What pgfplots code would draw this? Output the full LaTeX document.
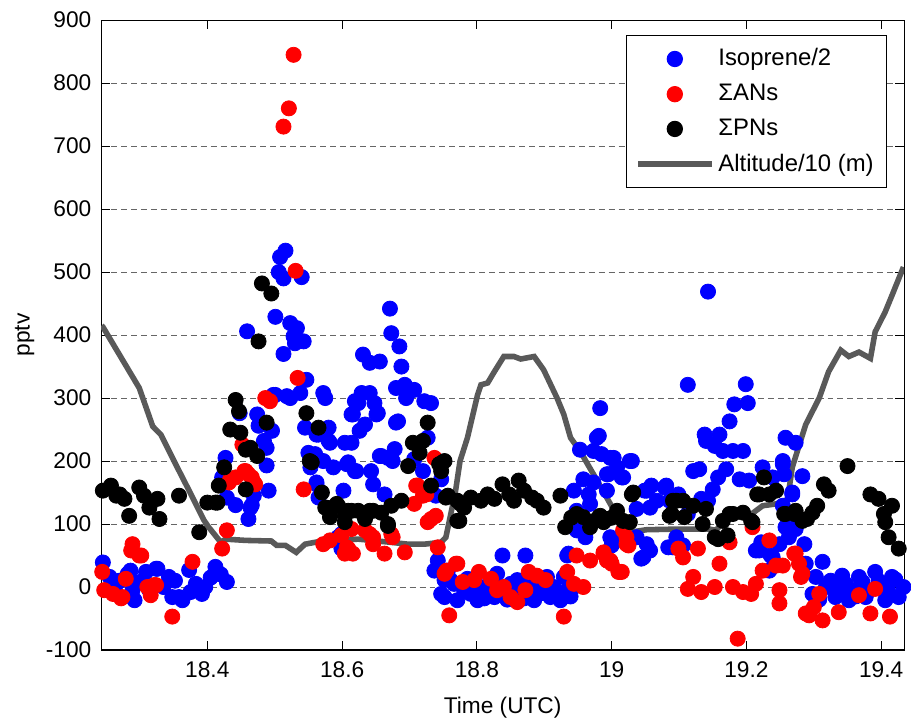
\documentclass[border=0pt]{standalone}
\usepackage{pgfplots}
\pgfplotsset{compat=1.18}
\usepackage{pgfplotstable}
\usepackage{fontspec}
\setmainfont{Liberation Sans}

\definecolor{altgray}{RGB}{89,89,89}

\pgfplotsset{
    markleg/.style={legend image code/.code={\draw[mark repeat=2,mark phase=2,##1] plot coordinates {(0cm,0cm) (0.65cm,0cm) (1.3cm,0cm)};}},
    lineleg/.style={legend image code/.code={\draw[##1] (0cm,0cm) -- (1.3cm,0cm);}},
}

% Isoprene/2 (pptv)
\pgfplotstableread[row sep=\\]{
x y\\
18.245 39\\ 18.255 16\\ 18.265 5\\ 18.282 21\\ 18.289 -5\\ 18.309 24\\ 18.324 29\\ 18.314 -5\\
18.343 16\\ 18.348 -16\\ 18.363 -21\\ 18.373 27\\ 18.383 5\\ 18.397 0\\ 18.286 26\\ 18.326 29\\
18.358 -16\\ 18.392 -11\\ 18.412 32\\ 18.429 8\\ 18.292 -21\\ 18.265 -11\\ 18.270 10\\ 18.300 8\\
18.335 0\\ 18.352 10\\ 18.405 15\\ 18.375 -8\\ 18.420 20\\
18.427 205\\ 18.422 174\\ 18.429 142\\ 18.442 130\\ 18.464 126\\ 18.474 274\\ 18.476 256\\ 18.488 221\\
18.484 232\\ 18.488 193\\ 18.491 153\\ 18.469 145\\ 18.461 108\\ 18.466 130\\ 18.501 305\\ 18.459 406\\
18.448 276\\ 18.496 248\\
18.516 534\\ 18.508 524\\ 18.506 500\\ 18.513 490\\ 18.540 492\\ 18.501 429\\ 18.523 419\\ 18.533 411\\
18.528 398\\ 18.543 390\\ 18.530 387\\ 18.513 370\\ 18.547 329\\ 18.498 305\\ 18.518 303\\ 18.538 308\\
18.572 308\\ 18.575 300\\ 18.619 295\\ 18.614 274\\ 18.545 253\\ 18.565 242\\ 18.580 253\\ 18.582 229\\
18.604 229\\ 18.614 229\\ 18.560 211\\ 18.553 190\\ 18.572 200\\ 18.587 190\\ 18.607 195\\ 18.619 184\\
18.562 163\\ 18.602 153\\ 18.565 142\\ 18.523 300\\ 18.562 242\\ 18.550 213\\ 18.683 263\\ 18.653 276\\
18.675 200\\ 18.580 232\\ 18.658 208\\ 18.562 166\\
18.671 442\\ 18.673 403\\ 18.685 382\\ 18.631 369\\ 18.641 356\\ 18.656 358\\ 18.688 350\\ 18.680 316\\
18.693 321\\ 18.707 313\\ 18.695 300\\ 18.629 308\\ 18.624 292\\ 18.641 308\\ 18.648 292\\ 18.651 274\\
18.616 274\\ 18.634 258\\ 18.626 248\\ 18.680 261\\ 18.722 295\\ 18.732 292\\ 18.727 237\\ 18.656 208\\
18.678 219\\ 18.668 205\\ 18.609 198\\ 18.621 184\\ 18.643 184\\ 18.646 163\\ 18.663 147\\ 18.707 203\\
18.720 184\\ 18.739 145\\ 18.747 171\\ 18.599 84\\ 18.594 79\\ 18.599 61\\
18.742 42\\ 18.737 26\\ 18.757 26\\ 18.747 -11\\ 18.752 11\\
18.752 -16\\ 18.761 11\\ 18.771 -21\\ 18.791 -11\\ 18.801 -21\\ 18.816 -5\\ 18.830 21\\ 18.826 -16\\
18.840 -13\\ 18.860 11\\ 18.870 -18\\ 18.885 -21\\ 18.889 5\\ 18.904 16\\ 18.909 -16\\ 18.924 -21\\
18.929 16\\ 18.934 -5\\ 18.838 50\\ 18.872 50\\ 18.934 50\\ 18.766 5\\ 18.781 -5\\ 18.786 13\\
18.796 8\\ 18.806 0\\ 18.811 -18\\ 18.821 10\\ 18.835 0\\ 18.845 -20\\ 18.850 5\\ 18.855 -10\\
18.865 0\\ 18.875 8\\ 18.880 -8\\ 18.894 -10\\ 18.899 10\\ 18.914 0\\ 18.919 -10\\ 18.939 -15\\ 18.944 0\\
18.983 284\\ 18.978 237\\ 18.953 218\\ 18.973 216\\ 18.985 211\\ 19.003 205\\ 19.027 200\\ 18.958 171\\
18.973 166\\ 18.993 179\\ 19.017 174\\ 18.944 153\\ 18.966 147\\ 18.993 153\\ 18.968 132\\ 18.948 121\\
18.948 90\\ 18.961 79\\ 18.998 79\\ 19.000 66\\ 18.936 53\\ 18.998 205\\ 19.008 190\\ 18.995 179\\ 18.981 240\\
19.113 321\\ 19.199 322\\ 19.182 290\\ 19.202 292\\ 19.175 263\\ 19.138 242\\ 19.160 242\\ 19.140 232\\
19.153 224\\ 19.165 216\\ 19.180 216\\ 19.195 216\\ 19.258 237\\ 19.273 229\\ 19.254 195\\ 19.121 184\\
19.130 187\\ 19.030 200\\ 19.015 174\\ 19.170 187\\ 19.158 174\\ 19.190 171\\ 19.204 169\\ 19.224 190\\
19.239 174\\ 19.283 176\\ 19.059 161\\ 19.079 158\\ 19.049 153\\ 19.150 155\\ 19.099 147\\ 19.067 137\\
19.057 126\\ 19.037 124\\ 19.086 137\\ 19.133 140\\ 19.143 137\\ 19.113 116\\ 19.268 147\\ 19.254 129\\
19.278 103\\ 19.258 95\\ 19.037 79\\ 19.052 68\\ 19.047 47\\ 19.091 63\\ 19.106 66\\ 19.214 58\\
19.236 50\\ 19.249 68\\ 19.222 71\\ 19.286 68\\ 19.288 37\\ 19.081 161\\ 19.052 153\\ 19.044 45\\
19.057 58\\ 19.000 76\\ 19.084 63\\ 19.096 79\\ 19.219 58\\ 19.239 47\\ 19.234 26\\ 19.263 79\\
19.143 469\\ 19.254 200\\ 19.256 179\\ 19.268 150\\ 19.273 92\\
19.313 40\\ 19.303 16\\ 19.298 -11\\ 19.318 0\\ 19.332 -16\\ 19.342 18\\ 19.357 -5\\ 19.367 16\\
19.377 -16\\ 19.391 24\\ 19.401 0\\ 19.416 16\\ 19.426 -16\\ 19.433 0\\ 19.352 -21\\ 19.406 -21\\
19.325 10\\ 19.337 -5\\ 19.347 5\\ 19.362 -15\\ 19.372 8\\ 19.382 -5\\ 19.396 10\\ 19.411 -8\\
19.421 12\\ 19.308 -20\\
}\isoprene

% Sum of alkyl nitrates (pptv)
\pgfplotstableread[row sep=\\]{
x y\\
18.244 24\\ 18.247 -5\\ 18.260 -11\\ 18.272 -18\\ 18.279 13\\ 18.289 68\\ 18.302 50\\ 18.311 0\\
18.321 3\\ 18.316 -13\\ 18.348 -47\\ 18.378 40\\ 18.274 -16\\ 18.287 58\\ 18.299 50\\ 18.324 3\\
18.422 61\\ 18.429 90\\ 18.432 166\\ 18.442 174\\ 18.457 184\\ 18.466 174\\ 18.471 163\\ 18.452 226\\
18.486 300\\ 18.493 295\\ 18.528 845\\ 18.521 760\\ 18.513 731\\ 18.531 502\\ 18.534 332\\ 18.543 155\\
18.455 184\\ 18.434 171\\ 18.469 166\\ 18.461 179\\
18.712 161\\ 18.725 147\\ 18.707 132\\ 18.737 205\\ 18.732 108\\ 18.739 113\\ 18.599 82\\ 18.614 92\\
18.609 61\\ 18.616 53\\ 18.634 90\\ 18.646 79\\ 18.646 68\\ 18.663 53\\ 18.675 79\\ 18.693 55\\
18.582 74\\ 18.604 53\\ 18.572 68\\ 18.710 161\\ 18.720 145\\ 18.727 103\\ 18.607 63\\ 18.673 84\\
18.641 84\\ 18.742 63\\ 18.752 21\\ 18.755 26\\ 18.771 37\\ 18.779 8\\
18.759 -45\\ 18.769 37\\ 18.796 11\\ 18.803 24\\ 18.821 13\\ 18.830 -5\\ 18.840 0\\ 18.850 -16\\
18.860 -24\\ 18.872 -5\\ 18.877 24\\ 18.889 18\\ 18.902 11\\ 18.929 -47\\ 18.934 24\\ 18.944 5\\
18.958 0\\ 18.948 50\\ 18.968 42\\ 18.988 55\\ 18.993 42\\ 19.012 24\\ 19.000 37\\ 19.022 79\\
19.017 90\\ 19.025 66\\ 18.988 53\\ 18.998 42\\ 19.010 24\\
19.099 61\\ 19.106 47\\ 19.128 61\\ 19.160 37\\ 19.121 16\\ 19.113 -3\\ 19.133 -8\\ 19.153 0\\
19.180 0\\ 19.195 -8\\ 19.207 -11\\ 19.214 5\\ 19.224 26\\ 19.234 74\\ 19.244 34\\ 19.254 34\\
19.249 -5\\ 19.249 -26\\ 19.273 53\\ 19.278 37\\ 19.283 21\\ 19.288 -42\\ 19.187 -82\\ 19.175 71\\
19.209 95\\ 19.293 -45\\ 19.271 53\\ 19.281 16\\ 19.308 -11\\ 19.300 -32\\ 19.313 -53\\
19.337 -40\\ 19.367 -13\\ 19.391 -3\\ 19.384 -42\\ 19.413 -47\\ 19.015 24\\ 19.022 68\\
}\ans

% Sum of peroxy nitrates (pptv)
\pgfplotstableread[row sep=\\]{
x y\\
18.245 153\\ 18.257 161\\ 18.270 147\\ 18.277 140\\ 18.284 113\\ 18.299 158\\ 18.306 145\\ 18.314 126\\
18.326 140\\ 18.329 108\\ 18.358 145\\ 18.388 87\\ 18.400 134\\ 18.265 145\\ 18.412 134\\ 18.417 161\\
18.425 190\\ 18.434 250\\ 18.449 245\\ 18.442 297\\ 18.447 279\\ 18.457 218\\ 18.464 221\\ 18.474 208\\
18.457 155\\ 18.488 261\\ 18.481 482\\ 18.495 466\\ 18.476 390\\ 18.415 134\\
18.547 276\\ 18.565 253\\ 18.555 198\\ 18.570 150\\ 18.575 126\\ 18.592 132\\ 18.582 111\\ 18.604 116\\
18.614 121\\ 18.552 200\\ 18.577 126\\ 18.594 129\\ 18.609 121\\ 18.624 121\\ 18.634 108\\ 18.646 121\\
18.658 118\\ 18.668 97\\ 18.673 129\\ 18.688 137\\ 18.698 192\\ 18.705 229\\ 18.720 232\\ 18.715 213\\
18.727 261\\ 18.744 195\\ 18.749 198\\ 18.732 161\\ 18.754 142\\ 18.747 184\\ 18.757 145\\ 18.776 132\\
18.774 105\\ 18.604 103\\ 18.641 121\\ 18.668 100\\
18.752 200\\ 18.771 137\\ 18.781 126\\ 18.771 105\\ 18.791 142\\ 18.806 137\\ 18.816 147\\ 18.826 140\\
18.838 163\\ 18.848 147\\ 18.855 137\\ 18.862 169\\ 18.870 153\\ 18.882 142\\ 18.889 137\\ 18.899 126\\
18.924 145\\ 18.931 95\\ 18.948 116\\ 18.958 111\\ 18.968 95\\ 18.983 113\\ 18.993 108\\ 19.008 121\\
19.017 105\\ 19.030 147\\ 18.981 111\\ 18.988 103\\ 19.027 103\\ 18.940 110\\ 18.975 105\\ 19.000 110\\
19.032 150\\ 19.091 137\\ 19.086 113\\ 19.106 137\\ 19.108 111\\ 19.121 129\\ 19.140 124\\ 19.135 100\\
19.153 79\\ 19.172 82\\ 19.165 105\\ 19.180 116\\ 19.195 118\\ 19.209 103\\ 19.219 147\\ 19.226 174\\
19.244 153\\ 19.258 116\\ 19.273 121\\ 19.283 105\\ 19.089 116\\ 19.096 137\\ 19.158 76\\ 19.175 116\\
19.207 105\\ 19.216 147\\ 19.234 147\\ 19.256 116\\ 19.271 116\\ 19.290 108\\ 19.298 118\\ 19.305 129\\
19.315 163\\ 19.322 153\\ 19.350 192\\ 19.384 147\\ 19.396 140\\ 19.416 129\\ 19.404 116\\ 19.406 103\\
19.411 79\\ 19.426 61\\
}\pns

% Altitude/10 (m)
\pgfplotstableread[row sep=\\]{
x y\\
18.243 415\\ 18.245 413\\ 18.299 316\\ 18.319 255\\ 18.331 242\\ 18.353 195\\ 18.373 153\\ 18.395 106\\
18.402 95\\ 18.420 71\\ 18.427 76\\ 18.457 74\\ 18.495 73\\ 18.503 66\\ 18.516 66\\ 18.532 55\\
18.545 68\\ 18.575 74\\ 18.589 68\\ 18.604 75\\ 18.624 76\\ 18.672 71\\ 18.698 68\\ 18.722 68\\
18.747 71\\ 18.754 79\\ 18.768 150\\ 18.775 200\\ 18.786 237\\ 18.801 305\\ 18.806 321\\ 18.816 324\\
18.826 342\\ 18.840 366\\ 18.855 366\\ 18.865 362\\ 18.885 366\\ 18.899 345\\ 18.919 300\\ 18.929 274\\
18.939 237\\ 18.953 216\\ 18.973 179\\ 18.998 132\\ 19.017 95\\ 19.027 87\\ 19.052 91\\ 19.101 92\\
19.145 92\\ 19.155 90\\ 19.165 103\\ 19.180 113\\ 19.190 116\\ 19.204 113\\ 19.224 129\\ 19.244 132\\
19.261 139\\ 19.268 190\\ 19.288 258\\ 19.308 300\\ 19.322 342\\ 19.340 376\\ 19.352 366\\ 19.367 373\\
19.384 363\\ 19.391 405\\ 19.406 437\\ 19.416 463\\ 19.433 508\\
}\altitude

\begin{document}
\fontsize{11.4}{13.7}\selectfont
\begin{tikzpicture}
\begin{axis}[
    scale only axis,
    width=403.5pt,
    height=316.5pt,
    xmin=18.2425, xmax=19.434,
    ymin=-100, ymax=900,
    xtick={18.4,18.6,18.8,19,19.2,19.4},
    xticklabels={18.4,18.6,18.8,19,19.2,19.4},
    ytick={-100,0,100,200,300,400,500,600,700,800,900},
    yticklabels={-100,0,100,200,300,400,500,600,700,800,900},
    tick align=inside,
    major tick length=4.5pt,
    minor tick num=0,
    axis line style={line width=0.6pt},
    every tick/.style={black, line width=0.5pt},
    ymajorgrids,
    major grid style={black!60, line width=0.5pt, dash pattern=on 3pt off 2pt},
    xlabel={Time (UTC)},
    ylabel={pptv},
    xticklabel style={yshift=-2pt},
    yticklabel style={xshift=-1pt},
    xlabel style={yshift=-2pt},
    ylabel style={yshift=-2pt},
    legend style={at={(1,1)}, anchor=north east, xshift=-8.5pt, yshift=-7.5pt,
        draw=black, line width=0.6pt, fill=white, row sep=3.5pt,
        inner xsep=4.5pt, inner ysep=4.5pt,
        font=\fontsize{12}{14.4}\selectfont},
    legend cell align=left,
]
\addplot[blue, only marks, mark=*, mark size=3.8pt, mark options={draw=none, fill=blue}, markleg]
    table[x=x, y=y] {\isoprene};
\addlegendentry{Isoprene/2}
\addplot[red, only marks, mark=*, mark size=3.8pt, mark options={draw=none, fill=red}, markleg]
    table[x=x, y=y] {\ans};
\addlegendentry{ΣANs}
\addplot[black, only marks, mark=*, mark size=3.8pt, mark options={draw=none, fill=black}, markleg]
    table[x=x, y=y] {\pns};
\addlegendentry{ΣPNs}
\addplot[altgray, line width=2.8pt, no marks, lineleg]
    table[x=x, y=y] {\altitude};
\addlegendentry{Altitude/10 (m)}
\end{axis}
\path ([shift={(-50.85pt,-32.85pt)}]current axis.south west)
      ([shift={(1pt,10.15pt)}]current axis.north east);
\end{tikzpicture}
\end{document}
